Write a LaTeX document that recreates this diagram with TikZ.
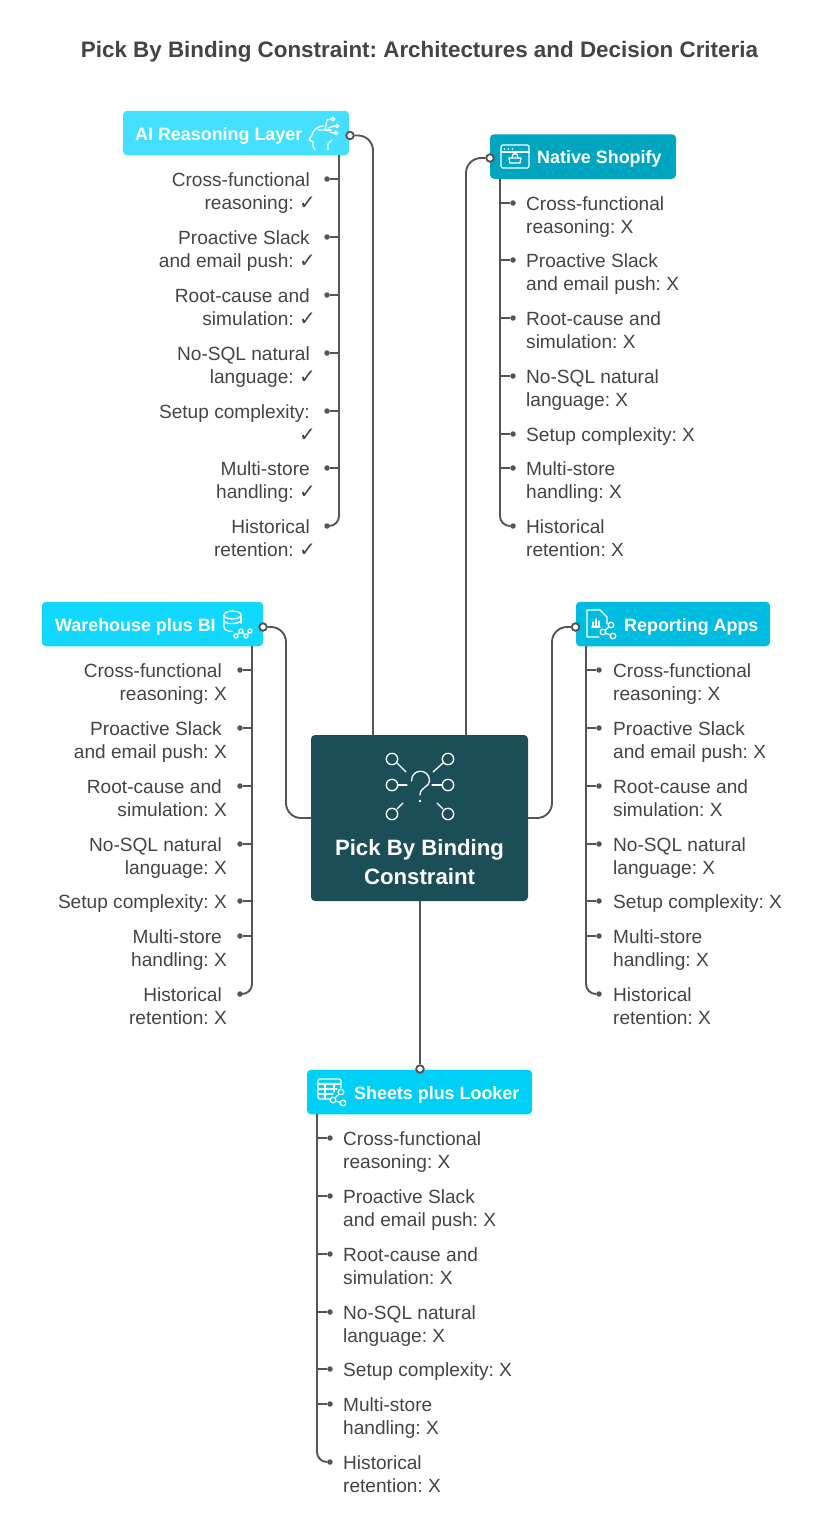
\documentclass[tikz,border=0pt]{standalone}
\usepackage{fontspec}
\setmainfont{Liberation Sans}
\newfontfamily\checkfont{DejaVu Sans}
\frenchspacing
\newcommand{\yes}{{\checkfont\fontsize{20}{23}\selectfont ✓}\kern-6pt}
\newcommand{\no}{X\kern-5pt}
\definecolor{inkgray}{HTML}{444444}
\definecolor{wiregray}{HTML}{555555}
\definecolor{mainteal}{HTML}{1C4E57}
\definecolor{aiblue}{HTML}{45E0FF}
\definecolor{shopblue}{HTML}{00A5C0}
\definecolor{whouseblue}{HTML}{12D8FF}
\definecolor{reportblue}{HTML}{00BCE0}
\definecolor{sheetsblue}{HTML}{00D0F5}
\begin{document}
\begin{tikzpicture}[
    x=1pt, y=-1pt,
    link/.style={draw=wiregray, line width=1.9pt},
    trunk/.style={link, rounded corners=10pt},
    feeder/.style={link, rounded corners=15pt},
    port/.style={circle, draw=wiregray, fill=white, line width=1.9pt, inner sep=0pt, minimum size=7.5pt},
    leafdot/.style={circle, fill=wiregray, inner sep=0pt, outer sep=0pt, minimum size=5.5pt},
    headbox/.style={rectangle, rounded corners=4pt, inner sep=0pt, minimum height=44.5pt},
    headtext/.style={anchor=west, inner sep=0pt, yshift=-2.5pt, text=white, font=\fontsize{17.9}{23}\selectfont\bfseries},
    leafbase/.style={inner sep=0pt, yshift=-4pt, align=#1, text=inkgray, font=\fontsize{19.1}{23}\selectfont},
    leafright/.style={leafbase=right, anchor=north east},
    leafleft/.style={leafbase=left, anchor=north west},
    icon/.style={draw=white, line width=1.3pt, line cap=round, line join=round},
    ]
\useasboundingbox (0,0) rectangle (821,1532);
\node[text=inkgray, inner sep=0pt, font=\fontsize{22.4}{26}\selectfont\bfseries] (title) at (419.5,52) {Pick By Binding Constraint: Architectures and Decision Criteria};

\node[rectangle, rounded corners=4pt, fill=mainteal, minimum width=217pt, minimum height=166pt, inner sep=0pt] (mainBox) at (419.5,818) {};
\node[text=white, inner sep=0pt, align=center, font=\fontsize{22.2}{29}\selectfont\bfseries] (mainLabel) at (419.5,862) {Pick By Binding\\Constraint};
\draw[icon] (392,759) circle (5.7);
\draw[icon] (448,759) circle (5.7);
\draw[icon] (392,785) circle (5.7);
\draw[icon] (448,785) circle (5.7);
\draw[icon] (392,814) circle (5.7);
\draw[icon] (448,814) circle (5.7);
\draw[icon] (397,763) -- (406,772);
\draw[icon] (443,763) -- (433,772);
\draw[icon] (398,785) -- (407,785);
\draw[icon] (442,785) -- (432,785);
\draw[icon] (397,809) -- (403,803);
\draw[icon] (443,809) -- (437,803);
\draw[icon] (411.5,781) .. controls (411.5,768) and (429.5,768) .. (429.5,781) .. controls (429.5,787) and (420,787) .. (420,795);
\fill[white] (420,801) circle (1.4);

% AI Reasoning Layer
\node[headbox, fill=aiblue, minimum width=226pt] (aiHead) at (236,133) {};
\node[headtext] (aiLabel) at (135,133) {AI Reasoning Layer};
\node[port] (aiPort) at (350,135.5) {};
\coordinate (aiEnter) at (373,735);
\coordinate (aiTrunk) at (339,155);
\draw[feeder] (aiPort) -| (aiEnter);
\draw[icon] (323,126) .. controls (318,126) and (313,130) .. (312,135) -- (309,140) -- (313,142) -- (313,146) -- (315,150);
\draw[icon] (328,150) -- (328,144) -- (332,140);
\draw[icon] (318,130) -- (325,130) -- (327,120) -- (331,119);
\draw[icon] (325,130) -- (331,130);
\draw[icon] (328,128) -- (335,126);
\draw[icon] (330,132) -- (334,133);
\draw[icon] (333,119) circle (1.8);
\draw[icon] (337,126) circle (1.8);
\draw[icon] (336,133) circle (1.8);
\node[leafright] (aiCross) at (310,168) {Cross-functional\\reasoning: \yes};
\node[leafright] (aiSlack) at (310,226) {Proactive Slack\\and email push: \yes};
\node[leafright] (aiRoot) at (310,284) {Root-cause and\\simulation: \yes};
\node[leafright] (aiSql) at (310,342) {No-SQL natural\\language: \yes};
\node[leafright] (aiSetup) at (310,400) {Setup complexity:\\\yes};
\node[leafright] (aiStore) at (310,457) {Multi-store\\handling: \yes};
\node[leafright] (aiHist) at (310,515) {Historical\\retention: \yes};
\node[leafdot] (aiCrossDot) at (327,179) {};
\node[leafdot] (aiSlackDot) at (327,237) {};
\node[leafdot] (aiRootDot) at (327,295) {};
\node[leafdot] (aiSqlDot) at (327,353) {};
\node[leafdot] (aiSetupDot) at (327,411) {};
\node[leafdot] (aiStoreDot) at (327,468) {};
\node[leafdot] (aiHistDot) at (327,526) {};
\draw[link] (aiCrossDot) -- (aiCrossDot -| aiTrunk);
\draw[link] (aiSlackDot) -- (aiSlackDot -| aiTrunk);
\draw[link] (aiRootDot) -- (aiRootDot -| aiTrunk);
\draw[link] (aiSqlDot) -- (aiSqlDot -| aiTrunk);
\draw[link] (aiSetupDot) -- (aiSetupDot -| aiTrunk);
\draw[link] (aiStoreDot) -- (aiStoreDot -| aiTrunk);
\draw[trunk] (aiTrunk) |- (aiHistDot);

% Native Shopify
\node[headbox, fill=shopblue, minimum width=186pt] (shopHead) at (583,156.5) {};
\node[headtext] (shopLabel) at (537,156.5) {Native Shopify};
\node[port] (shopPort) at (490,158) {};
\coordinate (shopEnter) at (466,735);
\coordinate (shopTrunk) at (500,179);
\draw[feeder] (shopPort) -| (shopEnter);
\draw[icon, rounded corners=2pt] (501,145) rectangle (529,168);
\draw[icon] (501,152) -- (529,152);
\fill[white] (504.5,149) circle (0.9);
\fill[white] (508.5,149) circle (0.9);
\fill[white] (512.5,149) circle (0.9);
\draw[icon] (509,158) -- (521,158) -- (520,163) -- (510,163) -- cycle;
\draw[icon] (512,158) .. controls (512,152) and (518,152) .. (518,158);
\node[leafleft] (shopCross) at (526,192) {Cross-functional\\reasoning: X};
\node[leafleft] (shopSlack) at (526,249) {Proactive Slack\\and email push: X};
\node[leafleft] (shopRoot) at (526,307) {Root-cause and\\simulation: X};
\node[leafleft] (shopSql) at (526,365) {No-SQL natural\\language: X};
\node[leafleft] (shopSetup) at (526,423) {Setup complexity: X};
\node[leafleft] (shopStore) at (526,457) {Multi-store\\handling: X};
\node[leafleft] (shopHist) at (526,515) {Historical\\retention: X};
\node[leafdot] (shopCrossDot) at (513,203) {};
\node[leafdot] (shopSlackDot) at (513,260) {};
\node[leafdot] (shopRootDot) at (513,318) {};
\node[leafdot] (shopSqlDot) at (513,376) {};
\node[leafdot] (shopSetupDot) at (513,434) {};
\node[leafdot] (shopStoreDot) at (513,468) {};
\node[leafdot] (shopHistDot) at (513,526) {};
\draw[link] (shopCrossDot) -- (shopCrossDot -| shopTrunk);
\draw[link] (shopSlackDot) -- (shopSlackDot -| shopTrunk);
\draw[link] (shopRootDot) -- (shopRootDot -| shopTrunk);
\draw[link] (shopSqlDot) -- (shopSqlDot -| shopTrunk);
\draw[link] (shopSetupDot) -- (shopSetupDot -| shopTrunk);
\draw[link] (shopStoreDot) -- (shopStoreDot -| shopTrunk);
\draw[trunk] (shopTrunk) |- (shopHistDot);

% Warehouse plus BI
\node[headbox, fill=whouseblue, minimum width=221pt] (whouseHead) at (152.5,624) {};
\node[headtext] (whouseLabel) at (55,624) {Warehouse plus BI};
\node[port] (whousePort) at (263,627) {};
\coordinate (whouseEnter) at (mainBox.west);
\coordinate (whouseTrunk) at (252,646);
\draw[feeder] (whousePort) -- (286,627) -- (286,818) -- (whouseEnter);
\draw[icon] (232.5,615) ellipse (8.5 and 4);
\draw[icon] (224,615) -- (224,627) .. controls (224,630) and (228,631.5) .. (232,631.5);
\draw[icon] (241,615) -- (241,623);
\draw[icon] (224,621) .. controls (225,624) and (236,625) .. (241,621);
\draw[icon] (236,636) circle (2);
\draw[icon] (241,631) circle (2);
\draw[icon] (246,636) circle (2);
\draw[icon] (250,631) circle (2);
\draw[icon] (237.2,634.4) -- (239.8,632.6);
\draw[icon] (242.2,632.6) -- (244.8,634.4);
\draw[icon] (247.2,634.4) -- (248.8,632.6);
\node[leafright] (whouseCross) at (222,659) {Cross-functional\\reasoning: \no};
\node[leafright] (whouseSlack) at (222,717) {Proactive Slack\\and email push: \no};
\node[leafright] (whouseRoot) at (222,775) {Root-cause and\\simulation: \no};
\node[leafright] (whouseSql) at (222,833) {No-SQL natural\\language: \no};
\node[leafright] (whouseSetup) at (222,890) {Setup complexity: \no};
\node[leafright] (whouseStore) at (222,925) {Multi-store\\handling: \no};
\node[leafright] (whouseHist) at (222,983) {Historical\\retention: \no};
\node[leafdot] (whouseCrossDot) at (240,670) {};
\node[leafdot] (whouseSlackDot) at (240,728) {};
\node[leafdot] (whouseRootDot) at (240,786) {};
\node[leafdot] (whouseSqlDot) at (240,844) {};
\node[leafdot] (whouseSetupDot) at (240,901) {};
\node[leafdot] (whouseStoreDot) at (240,936) {};
\node[leafdot] (whouseHistDot) at (240,994) {};
\draw[link] (whouseCrossDot) -- (whouseCrossDot -| whouseTrunk);
\draw[link] (whouseSlackDot) -- (whouseSlackDot -| whouseTrunk);
\draw[link] (whouseRootDot) -- (whouseRootDot -| whouseTrunk);
\draw[link] (whouseSqlDot) -- (whouseSqlDot -| whouseTrunk);
\draw[link] (whouseSetupDot) -- (whouseSetupDot -| whouseTrunk);
\draw[link] (whouseStoreDot) -- (whouseStoreDot -| whouseTrunk);
\draw[trunk] (whouseTrunk) |- (whouseHistDot);

% Reporting Apps
\node[headbox, fill=reportblue, minimum width=194pt] (reportHead) at (673,624) {};
\node[headtext] (reportLabel) at (624,624) {Reporting Apps};
\node[port] (reportPort) at (575.5,627) {};
\coordinate (reportEnter) at (mainBox.east);
\coordinate (reportTrunk) at (586,646);
\draw[feeder] (reportPort) -- (552,627) -- (552,818) -- (reportEnter);
\draw[icon] (599,637) -- (587,637) -- (587,610) -- (600,610) -- (607,617) -- (607,624);
\draw[icon] (592,627) -- (600,627);
\draw[icon] (593,627) -- (593,622);
\draw[icon] (596,627) -- (596,619);
\draw[icon] (599,627) -- (599,621);
\draw[icon] (611,625) circle (2.8);
\draw[icon] (603,632) circle (2.8);
\draw[icon] (613,636) circle (2.8);
\draw[icon] (605,630) -- (609,627);
\draw[icon] (605.5,633.2) -- (610.5,635);
\node[leafleft] (reportCross) at (613,659) {Cross-functional\\reasoning: X};
\node[leafleft] (reportSlack) at (613,717) {Proactive Slack\\and email push: X};
\node[leafleft] (reportRoot) at (613,775) {Root-cause and\\simulation: X};
\node[leafleft] (reportSql) at (613,833) {No-SQL natural\\language: X};
\node[leafleft] (reportSetup) at (613,890) {Setup complexity: X};
\node[leafleft] (reportStore) at (613,925) {Multi-store\\handling: X};
\node[leafleft] (reportHist) at (613,983) {Historical\\retention: X};
\node[leafdot] (reportCrossDot) at (599,670) {};
\node[leafdot] (reportSlackDot) at (599,728) {};
\node[leafdot] (reportRootDot) at (599,786) {};
\node[leafdot] (reportSqlDot) at (599,844) {};
\node[leafdot] (reportSetupDot) at (599,901) {};
\node[leafdot] (reportStoreDot) at (599,936) {};
\node[leafdot] (reportHistDot) at (599,994) {};
\draw[link] (reportCrossDot) -- (reportCrossDot -| reportTrunk);
\draw[link] (reportSlackDot) -- (reportSlackDot -| reportTrunk);
\draw[link] (reportRootDot) -- (reportRootDot -| reportTrunk);
\draw[link] (reportSqlDot) -- (reportSqlDot -| reportTrunk);
\draw[link] (reportSetupDot) -- (reportSetupDot -| reportTrunk);
\draw[link] (reportStoreDot) -- (reportStoreDot -| reportTrunk);
\draw[trunk] (reportTrunk) |- (reportHistDot);

% Sheets plus Looker
\node[headbox, fill=sheetsblue, minimum width=225pt] (sheetsHead) at (419.5,1092) {};
\node[headtext] (sheetsLabel) at (354,1092) {Sheets plus Looker};
\node[port] (sheetsPort) at (420,1069) {};
\coordinate (sheetsTrunk) at (317,1114);
\coordinate (mainExit) at (420,901);
\draw[link] (mainExit) -- (sheetsPort);
\draw[icon, rounded corners=1.5pt] (330,1099) -- (318,1099) -- (318,1079) -- (341,1079) -- (341,1088);
\draw[icon] (318,1084) -- (341,1084);
\draw[icon] (318,1089) -- (337,1089);
\draw[icon] (318,1094) -- (333,1094);
\draw[icon] (325,1084) -- (325,1099);
\draw[icon] (334,1084) -- (334,1092);
\draw[icon] (341,1092) circle (2.8);
\draw[icon] (333,1100) circle (2.8);
\draw[icon] (343,1103) circle (2.8);
\draw[icon] (335,1098) -- (339,1094);
\draw[icon] (335.5,1101) -- (340.5,1102.5);
\node[leafleft] (sheetsCross) at (343,1127) {Cross-functional\\reasoning: X};
\node[leafleft] (sheetsSlack) at (343,1185) {Proactive Slack\\and email push: X};
\node[leafleft] (sheetsRoot) at (343,1243) {Root-cause and\\simulation: X};
\node[leafleft] (sheetsSql) at (343,1301) {No-SQL natural\\language: X};
\node[leafleft] (sheetsSetup) at (343,1358) {Setup complexity: X};
\node[leafleft] (sheetsStore) at (343,1393) {Multi-store\\handling: X};
\node[leafleft] (sheetsHist) at (343,1451) {Historical\\retention: X};
\node[leafdot] (sheetsCrossDot) at (330,1138) {};
\node[leafdot] (sheetsSlackDot) at (330,1196) {};
\node[leafdot] (sheetsRootDot) at (330,1254) {};
\node[leafdot] (sheetsSqlDot) at (330,1312) {};
\node[leafdot] (sheetsSetupDot) at (330,1369) {};
\node[leafdot] (sheetsStoreDot) at (330,1404) {};
\node[leafdot] (sheetsHistDot) at (330,1462) {};
\draw[link] (sheetsCrossDot) -- (sheetsCrossDot -| sheetsTrunk);
\draw[link] (sheetsSlackDot) -- (sheetsSlackDot -| sheetsTrunk);
\draw[link] (sheetsRootDot) -- (sheetsRootDot -| sheetsTrunk);
\draw[link] (sheetsSqlDot) -- (sheetsSqlDot -| sheetsTrunk);
\draw[link] (sheetsSetupDot) -- (sheetsSetupDot -| sheetsTrunk);
\draw[link] (sheetsStoreDot) -- (sheetsStoreDot -| sheetsTrunk);
\draw[trunk] (sheetsTrunk) |- (sheetsHistDot);
\end{tikzpicture}
\end{document}
